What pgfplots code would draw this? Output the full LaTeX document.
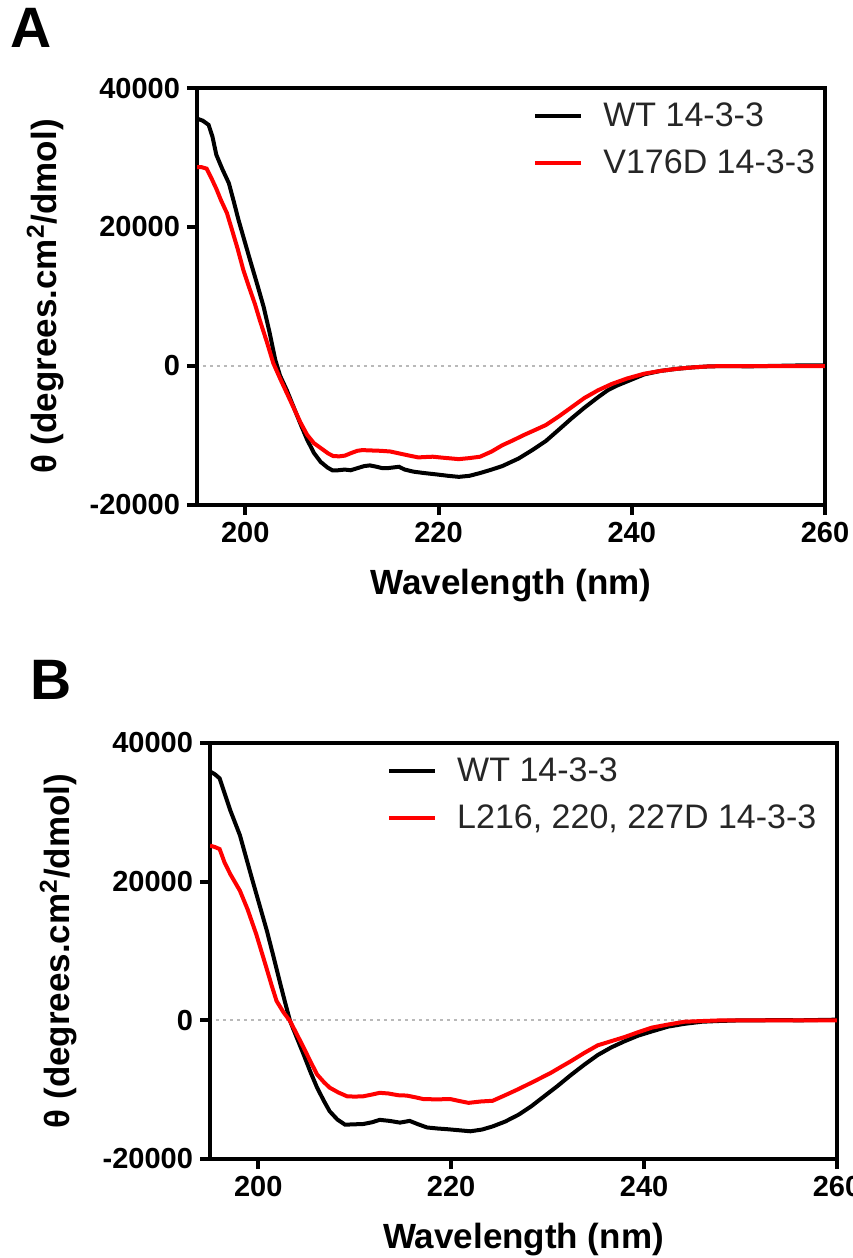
\documentclass[border=0pt]{standalone}
\usepackage{fontspec}
\setmainfont{Liberation Sans}
\usepackage{pgfplots}
\pgfplotsset{compat=1.18}

% 1 px of the reference = 0.5pt
\pgfplotsset{
  cdplot/.style={
    scale only axis,
    anchor=south west,
    xmin=195, xmax=260, ymin=-20000, ymax=40000,
    xtick={200,220,240,260}, ytick={-20000,0,20000,40000},
    xtick pos=left, ytick pos=left,
    tick align=outside, major tick length=5pt,
    every tick/.style={black, line width=2pt},
    axis line style={line width=2pt},
    scaled y ticks=false,
    /pgf/number format/1000 sep={},
    /pgf/number format/assume math mode=true,
    ticklabel style={font=\fontsize{14.5}{16}\selectfont\bfseries},
    label style={font=\fontsize{17.5}{20}\selectfont\bfseries},
    xlabel={Wavelength (nm)},
    ylabel={θ (degrees.cm\textsuperscript{2}/dmol)},
    xlabel style={yshift=-6.5pt},
    ylabel style={yshift=6pt},
    legend cell align=left,
    legend image code/.code={\draw[#1, line width=2pt] (0pt,0pt) -- (23pt,0pt); \path (31pt,0pt);},
    legend style={draw=none, fill=none, anchor=north west, inner sep=0pt,
      row sep=6pt, font=\fontsize{17}{20}\selectfont, text=black!85},
  },
  wt/.style={black, line width=2pt},
  mut/.style={red, line width=2pt},
  zero/.style={gray!55, line width=1pt, dash pattern=on 1.5pt off 2pt, forget plot},
}

\begin{document}
\begin{tikzpicture}
\useasboundingbox (0,0) rectangle (426pt,-629pt);

\node[anchor=north west, inner sep=0pt, font=\fontsize{28.5}{30}\selectfont\bfseries] at (5pt,-4pt) {A};
\node[anchor=north west, inner sep=0pt, font=\fontsize{28.5}{30}\selectfont\bfseries] at (15pt,-330pt) {B};

\begin{axis}[cdplot, at={(98.5pt,-252.5pt)}, width=314pt, height=208.5pt,
  legend style={at={(0.535,0.975)}}]
\addplot[zero] coordinates {(195.6,0)(260,0)};
\addplot[wt] coordinates {
(195.0,35600)(195.6,35300)(196.2,34700)(196.6,33000)(197.0,30400)(197.6,28400)(198.3,26300)(198.8,23700)(199.3,21000)(199.9,18100)(200.5,15200)(201.2,11900)(201.9,8500)(202.5,4900)(203.1,900)(203.6,-1400)(204.3,-3500)(205.0,-5900)(205.7,-8300)(206.4,-10600)(207.1,-12500)(207.8,-13800)(208.5,-14600)(209.0,-15000)(209.6,-15000)(210.3,-14900)(210.9,-15000)(211.6,-14700)(212.3,-14400)(212.9,-14300)(213.6,-14500)(214.2,-14700)(214.7,-14700)(215.3,-14600)(215.9,-14500)(216.5,-14900)(217.4,-15200)(218.5,-15400)(219.8,-15600)(221.0,-15800)(222.1,-15950)(223.2,-15800)(224.3,-15400)(225.5,-14900)(226.6,-14400)(228.3,-13300)(229.7,-12100)(231.1,-10800)(232.5,-9100)(233.8,-7500)(235.1,-6000)(236.5,-4500)(237.5,-3500)(238.5,-2800)(239.9,-2000)(241.3,-1200)(243.0,-700)(244.7,-400)(246.3,-200)(248.0,-50)(250.0,0)(252.0,-50)(254.0,0)(256.0,50)(258.0,100)(260.0,100)};
\addplot[mut] coordinates {
(195.0,28600)(195.5,28600)(196.0,28400)(196.5,27000)(197.0,25500)(197.5,23800)(198.1,22000)(198.6,19700)(199.2,16900)(199.8,13800)(200.4,11300)(201.0,8900)(201.5,6600)(202.2,3600)(202.9,400)(203.6,-1800)(204.3,-3900)(205.0,-6000)(205.7,-8100)(206.4,-9900)(207.1,-11100)(207.9,-11900)(208.6,-12600)(209.1,-12950)(209.7,-13000)(210.3,-12900)(211.0,-12500)(211.6,-12200)(212.1,-12100)(213.0,-12150)(214.0,-12200)(215.0,-12300)(216.0,-12600)(217.0,-12900)(217.9,-13150)(218.6,-13100)(219.4,-13050)(220.5,-13200)(221.3,-13300)(222.1,-13400)(223.2,-13250)(224.3,-13050)(225.5,-12300)(226.6,-11400)(227.7,-10700)(228.8,-9950)(230.0,-9200)(231.1,-8500)(232.4,-7300)(233.7,-6000)(235.1,-4600)(236.5,-3500)(237.9,-2600)(239.5,-1800)(241.3,-1100)(243.0,-700)(244.7,-400)(246.3,-200)(248.0,-50)(250.0,0)(252.0,0)(254.0,0)(256.0,0)(258.0,0)(260.0,0)};
\legend{WT 14-3-3, V176D 14-3-3}
\end{axis}

\begin{axis}[cdplot, at={(105pt,-579.5pt)}, width=313.5pt, height=208pt,
  legend style={at={(0.282,0.975)}}]
\addplot[zero] coordinates {(195.6,0)(260,0)};
\addplot[wt] coordinates {
(195.0,35900)(195.5,35500)(196.0,34900)(196.5,32800)(197.1,30300)(197.6,28500)(198.1,26700)(198.7,23700)(199.3,20700)(200.1,16800)(200.9,12900)(201.6,9100)(202.3,5200)(202.8,2500)(203.3,-100)(204.0,-2500)(204.7,-4900)(205.4,-7400)(206.1,-9700)(206.8,-11600)(207.4,-13100)(208.2,-14300)(209.0,-15050)(209.9,-15000)(210.9,-14950)(211.8,-14700)(212.6,-14350)(213.6,-14500)(214.7,-14750)(215.7,-14500)(216.6,-15000)(217.5,-15450)(218.6,-15600)(219.6,-15700)(220.8,-15850)(222.0,-16000)(223.2,-15750)(224.3,-15300)(225.6,-14600)(227.0,-13600)(228.3,-12400)(229.6,-11000)(231.0,-9500)(232.4,-7900)(233.8,-6400)(235.2,-5000)(236.6,-3900)(238.0,-3000)(239.4,-2200)(240.8,-1600)(242.5,-900)(244.2,-500)(246.0,-200)(247.6,-100)(250.0,0)(252.0,0)(254.0,50)(256.0,0)(258.0,50)(260.0,100)};
\addplot[mut] coordinates {
(195.0,25200)(195.5,25000)(196.0,24700)(196.5,22800)(197.1,21100)(197.6,19900)(198.1,18700)(198.9,16000)(199.8,12400)(200.8,7800)(201.4,5000)(201.9,2800)(202.6,1200)(203.3,-100)(204.0,-2000)(204.7,-3900)(205.4,-5900)(206.1,-7800)(206.8,-8900)(207.4,-9700)(208.3,-10400)(209.2,-10950)(210.0,-11000)(210.9,-10950)(211.8,-10700)(212.6,-10450)(213.5,-10550)(214.5,-10800)(215.4,-10850)(216.3,-11100)(217.1,-11350)(218.5,-11400)(219.9,-11350)(220.9,-11650)(221.8,-11900)(223.1,-11700)(224.3,-11600)(225.6,-10800)(227.0,-9900)(228.6,-8800)(230.3,-7600)(231.4,-6700)(232.4,-5900)(233.8,-4700)(235.2,-3600)(236.6,-3000)(238.0,-2400)(239.4,-1700)(240.8,-1050)(242.5,-600)(244.2,-200)(246.0,-100)(248.0,0)(250.0,0)(252.0,0)(254.0,0)(256.0,0)(258.0,0)(260.0,0)};
\legend{WT 14-3-3, {L216, 220, 227D 14-3-3}}
\end{axis}
\end{tikzpicture}
\end{document}
